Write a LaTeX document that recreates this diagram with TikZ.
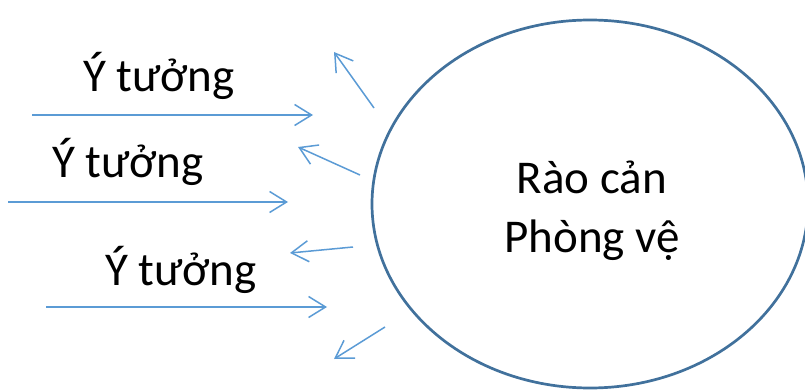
\documentclass[tikz,border=0pt]{standalone}
\usepackage{fontspec}
\setmainfont{Carlito}
\usetikzlibrary{arrows.meta,shapes.geometric}
\definecolor{arrowblue}{RGB}{91,155,213}
\definecolor{ellblue}{RGB}{65,113,156}
\tikzset{
  flow/.style={draw=arrowblue, line width=1.5pt,
    -{Straight Barb[length=17pt,width=21pt,line width=1.5pt]}},
  idea/.style={anchor=base west, inner sep=0pt, font=\fontsize{47}{58}\selectfont},
  barrier/.style={ellipse, draw=ellblue, line width=2.7pt, minimum width=436pt, minimum height=368pt, inner sep=0pt}
}
\begin{document}
\begin{tikzpicture}[x=1pt,y=-1pt]
\useasboundingbox (0,0) rectangle (805,390);
\node[barrier] (B) at (590,204) {};
\node[align=center, inner sep=0pt, font=\fontsize{47}{59}\selectfont] (T) at (592,211) {Rào cản\\Phòng vệ};
\node[idea] (I1) at (83,92) {Ý tưởng};
\node[idea] (I2) at (52,178) {Ý tưởng};
\node[idea] (I3) at (105,285) {Ý tưởng};
% incoming arrows
\coordinate (a1s) at (32,115); \coordinate (a1e) at (313,115);
\coordinate (a2s) at (8,202); \coordinate (a2e) at (288,202);
\coordinate (a3s) at (46,307); \coordinate (a3e) at (327,307);
\draw[flow] (a1s) -- (a1e);
\draw[flow] (a2s) -- (a2e);
\draw[flow] (a3s) -- (a3e);
% outgoing arrows
\coordinate (o1s) at (374,108); \coordinate (o1e) at (334,52);
\coordinate (o2s) at (360,175); \coordinate (o2e) at (298,147);
\coordinate (o3s) at (353,247); \coordinate (o3e) at (290,253);
\coordinate (o4s) at (385,327); \coordinate (o4e) at (334,359);
\draw[flow] (o1s) -- (o1e);
\draw[flow] (o2s) -- (o2e);
\draw[flow] (o3s) -- (o3e);
\draw[flow] (o4s) -- (o4e);
\end{tikzpicture}
\end{document}
